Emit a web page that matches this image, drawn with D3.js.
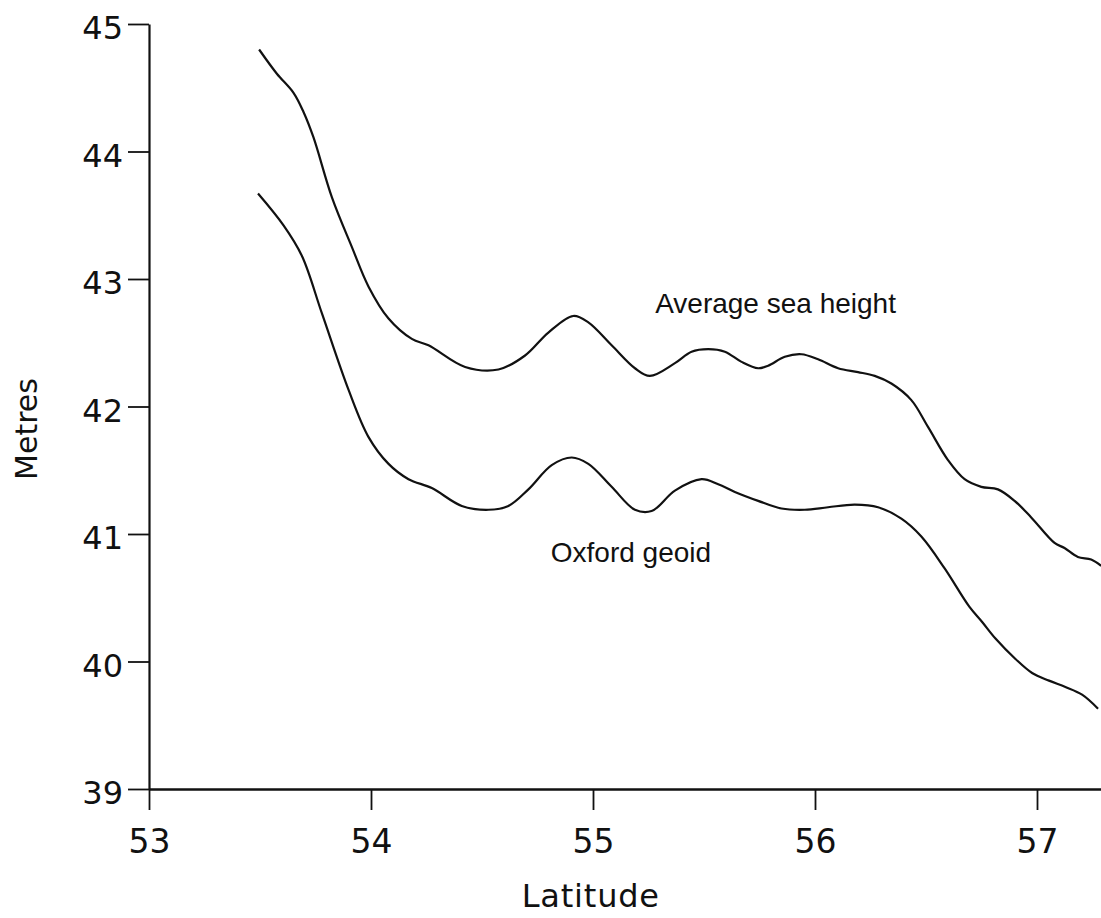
<!DOCTYPE html>
<html>
<head>
<meta charset="utf-8">
<script src="https://cdn.jsdelivr.net/npm/d3@7"></script>
<style>
  html, body { margin: 0; padding: 0; background: #fff; }
  svg { display: block; }
</style>
</head>
<body>
<svg id="chart" width="1101" height="918"></svg>
<script>
// ---- Data ----
const xTicks = [53, 54, 55, 56, 57];
const yTicks = [39, 40, 41, 42, 43, 44, 45];

const seaLat = [53.496, 53.576, 53.651, 53.696, 53.741, 53.824, 53.914, 53.989, 54.079, 54.184,
  54.259, 54.424, 54.574, 54.694, 54.799, 54.911, 54.979, 55.084, 55.189, 55.256,
  55.369, 55.444, 55.519, 55.594, 55.669, 55.744, 55.789, 55.864, 55.939, 56.014,
  56.104, 56.194, 56.269, 56.344, 56.434, 56.509, 56.599, 56.674, 56.749, 56.824,
  56.899, 56.974, 57.079, 57.124, 57.184, 57.244, 57.289];
const seaHeight = [44.80, 44.61, 44.46, 44.31, 44.11, 43.64, 43.25, 42.94, 42.69, 42.53,
  42.48, 42.31, 42.29, 42.40, 42.58, 42.71, 42.66, 42.48, 42.30, 42.24,
  42.34, 42.43, 42.45, 42.43, 42.35, 42.30, 42.32, 42.39, 42.41, 42.37,
  42.30, 42.27, 42.24, 42.18, 42.05, 41.84, 41.58, 41.43, 41.37, 41.35,
  41.26, 41.13, 40.93, 40.89, 40.82, 40.80, 40.75];

const geoidLat = [53.491, 53.606, 53.689, 53.779, 53.899, 53.989, 54.079, 54.169, 54.274, 54.409,
  54.529, 54.619, 54.709, 54.814, 54.904, 54.979, 55.084, 55.189, 55.264, 55.369,
  55.489, 55.564, 55.639, 55.744, 55.849, 55.954, 56.059, 56.179, 56.284, 56.389,
  56.479, 56.584, 56.695, 56.753, 56.813, 56.903, 56.978, 57.054, 57.128, 57.203, 57.275];
const geoidHeight = [43.67, 43.42, 43.18, 42.73, 42.13, 41.76, 41.55, 41.43, 41.36, 41.22,
  41.19, 41.22, 41.35, 41.54, 41.60, 41.55, 41.37, 41.19, 41.18, 41.34,
  41.43, 41.39, 41.33, 41.26, 41.20, 41.19, 41.21, 41.23, 41.21, 41.12,
  40.98, 40.73, 40.43, 40.31, 40.18, 40.02, 39.91, 39.85, 39.80, 39.74, 39.63];

const seriesLabels = ["Average sea height", "Oxford geoid"];
const xTitle = "Latitude";
const yTitle = "Metres";

// ---- Layout ----
const svg = d3.select("#chart");
const x0 = 149, x57 = 1037, rightEdge = 1101;
const perDeg = (x57 - x0) / 4;
const x = d3.scaleLinear()
  .domain([53, 57 + (rightEdge - x57) / perDeg])
  .range([x0, rightEdge]);
const y = d3.scaleLinear().domain([39, 45]).range([789, 24]);

const ink = "#111";

// X axis
const gx = svg.append("g")
  .attr("transform", `translate(0,${y(39)})`)
  .call(d3.axisBottom(x).tickValues(xTicks).tickSize(21).tickSizeOuter(0).tickFormat(d3.format("d")));
gx.select(".domain").attr("stroke", ink).attr("stroke-width", 2.4);
gx.selectAll(".tick line").attr("stroke", ink).attr("stroke-width", 1.8);
gx.selectAll(".tick text")
  .attr("y", 64).attr("dy", 0)
  .attr("fill", ink)
  .style("font-family", "'DejaVu Sans', sans-serif")
  .style("font-size", "33px");

// Y axis
const gy = svg.append("g")
  .attr("transform", `translate(${x(53)},0)`)
  .call(d3.axisLeft(y).tickValues(yTicks).tickSize(21).tickSizeOuter(0).tickFormat(d3.format("d")));
gy.select(".domain").attr("stroke", ink).attr("stroke-width", 2.2);
gy.selectAll(".tick line").attr("stroke", ink).attr("stroke-width", 1.8);
gy.selectAll(".tick text")
  .attr("x", -26).attr("dy", "0.46em")
  .attr("fill", ink)
  .style("font-family", "'DejaVu Sans', sans-serif")
  .style("font-size", "32px");

// Curves
const line = d3.line()
  .x(d => x(d[0]))
  .y(d => y(d[1]))
  .curve(d3.curveCatmullRom.alpha(0.5));

const seaData = seaLat.map((v, i) => [v, seaHeight[i]]);
const geoidData = geoidLat.map((v, i) => [v, geoidHeight[i]]);

[seaData, geoidData].forEach(data => {
  svg.append("path")
    .datum(data)
    .attr("d", line)
    .attr("fill", "none")
    .attr("stroke", ink)
    .attr("stroke-width", 2.2)
    .attr("stroke-linejoin", "round");
});

// Series labels
svg.append("text")
  .attr("x", x(55.28)).attr("y", y(42.73))
  .text(seriesLabels[0])
  .attr("fill", ink)
  .style("font-family", "'Liberation Sans', Arial, sans-serif")
  .style("font-size", "28px");

svg.append("text")
  .attr("x", x(54.81)).attr("y", y(40.78))
  .text(seriesLabels[1])
  .attr("fill", ink)
  .style("font-family", "'Liberation Sans', Arial, sans-serif")
  .style("font-size", "28px");

// Axis titles
svg.append("text")
  .attr("x", x(54.99)).attr("y", 907)
  .attr("text-anchor", "middle")
  .text(xTitle)
  .attr("fill", ink)
  .style("font-family", "'DejaVu Sans', sans-serif")
  .style("font-size", "32px")
  .style("letter-spacing", "0.8px");

svg.append("text")
  .attr("transform", "translate(37,429) rotate(-90)")
  .attr("text-anchor", "middle")
  .text(yTitle)
  .attr("fill", ink)
  .style("font-family", "'DejaVu Sans', sans-serif")
  .style("font-size", "30px");
</script>
</body>
</html>
